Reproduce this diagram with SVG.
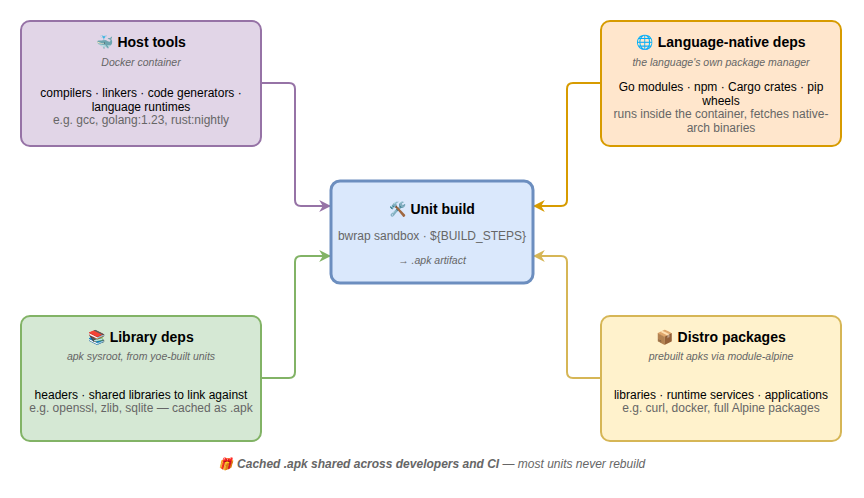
<svg xmlns="http://www.w3.org/2000/svg" width="864" height="498" viewBox="0 0 864 498">
<style>
text{font-family:"Liberation Sans",Arial,"Noto Color Emoji",sans-serif;text-anchor:middle}
.t{font-size:14px;font-weight:bold;fill:#000}
.s{font-size:10.5px;font-style:italic;fill:#666}
.b{font-size:12px;fill:#000}
.g{font-size:12px;fill:#666}
.c{fill:none;stroke-width:2}
</style>
<defs>
<marker id="ap" viewBox="0 0 10 10" refX="9" refY="5" markerWidth="6" markerHeight="6" orient="auto"><path d="M0,0L10,5L0,10L3,5z" fill="#9673a6"/></marker>
<marker id="ao" viewBox="0 0 10 10" refX="9" refY="5" markerWidth="6" markerHeight="6" orient="auto"><path d="M0,0L10,5L0,10L3,5z" fill="#d79b00"/></marker>
<marker id="ag" viewBox="0 0 10 10" refX="9" refY="5" markerWidth="6" markerHeight="6" orient="auto"><path d="M0,0L10,5L0,10L3,5z" fill="#82b366"/></marker>
<marker id="ay" viewBox="0 0 10 10" refX="9" refY="5" markerWidth="6" markerHeight="6" orient="auto"><path d="M0,0L10,5L0,10L3,5z" fill="#d6b656"/></marker>
</defs>
<g id="connectors">
<path class="c" stroke="#9673a6" d="M261,83H289Q295,83 295,89V200Q295,206 301,206H330" marker-end="url(#ap)"/>
<path class="c" stroke="#d79b00" d="M601,83H573Q567,83 567,89V200Q567,206 561,206H534" marker-end="url(#ao)"/>
<path class="c" stroke="#82b366" d="M261,378H289Q295,378 295,372V262Q295,256 301,256H330" marker-end="url(#ag)"/>
<path class="c" stroke="#d6b656" d="M601,378H573Q567,378 567,372V262Q567,256 561,256H534" marker-end="url(#ay)"/>
</g>
<g id="host">
<rect x="21" y="21" width="240" height="125" rx="9" fill="#e1d5e7" stroke="#9673a6" stroke-width="2"/>
<text class="t" x="141" y="47">🐳 Host tools</text>
<text class="s" x="141" y="66">Docker container</text>
<text class="b" x="141" y="97">compilers · linkers · code generators ·</text>
<text class="b" x="141" y="111">language runtimes</text>
<text class="g" x="141" y="124">e.g. gcc, golang:1.23, rust:nightly</text>
</g>
<g id="lang">
<rect x="601" y="21" width="240" height="125" rx="9" fill="#ffe6cc" stroke="#d79b00" stroke-width="2"/>
<text class="t" x="721" y="47">🌐 Language-native deps</text>
<text class="s" x="721" y="66">the language's own package manager</text>
<text class="b" x="721" y="91">Go modules · npm · Cargo crates · pip</text>
<text class="b" x="721" y="105">wheels</text>
<text class="g" x="721" y="118">runs inside the container, fetches native-</text>
<text class="g" x="721" y="132">arch binaries</text>
</g>
<g id="unit">
<rect x="331" y="181" width="202" height="102" rx="9" fill="#dae8fc" stroke="#6c8ebf" stroke-width="3"/>
<text class="t" x="432" y="214">🛠 Unit build</text>
<text class="g" x="432" y="240">bwrap sandbox · ${BUILD_STEPS}</text>
<text class="s" x="432" y="264">→ .apk artifact</text>
</g>
<g id="lib">
<rect x="21" y="316" width="240" height="125" rx="9" fill="#d5e8d4" stroke="#82b366" stroke-width="2"/>
<text class="t" x="141" y="342">📚 Library deps</text>
<text class="s" x="141" y="360">apk sysroot, from yoe-built units</text>
<text class="b" x="141" y="399">headers · shared libraries to link against</text>
<text class="g" x="141" y="412">e.g. openssl, zlib, sqlite — cached as .apk</text>
</g>
<g id="distro">
<rect x="601" y="316" width="240" height="125" rx="9" fill="#fff2cc" stroke="#d6b656" stroke-width="2"/>
<text class="t" x="721" y="342">📦 Distro packages</text>
<text class="s" x="721" y="360">prebuilt apks via module-alpine</text>
<text class="b" x="721" y="399">libraries · runtime services · applications</text>
<text class="g" x="721" y="412">e.g. curl, docker, full Alpine packages</text>
</g>
<text x="432" y="468" style="font-size:12px;font-style:italic;fill:#666">🎁 <tspan font-weight="bold">Cached .apk shared across developers and CI</tspan> — most units never rebuild</text>
</svg>
